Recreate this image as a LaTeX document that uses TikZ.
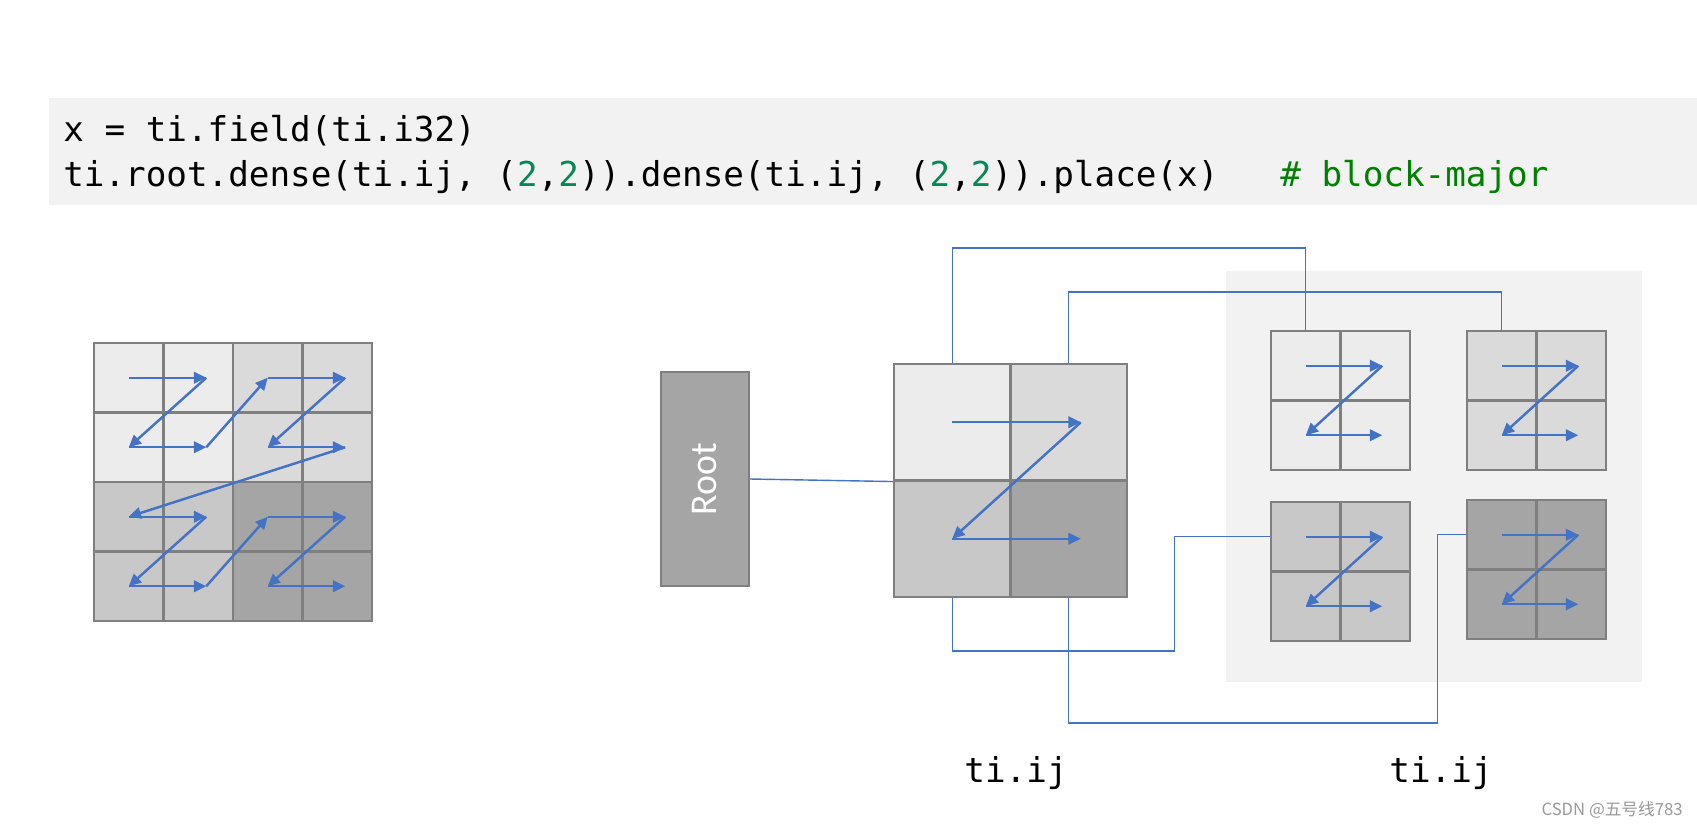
\documentclass[tikz,border=0pt]{standalone}
\usepackage{fontspec}
\setmonofont{DejaVu Sans Mono}
\newfontfamily\rootfont{Carlito}
\newfontfamily\cjkfont{Noto Sans CJK SC}
\usetikzlibrary{arrows.meta, calc}
\definecolor{zblue}{HTML}{4472C4}
\definecolor{gridline}{HTML}{7F7F7F}
\definecolor{shA}{HTML}{ECECEC}
\definecolor{shB}{HTML}{DADADA}
\definecolor{shC}{HTML}{C8C8C8}
\definecolor{shD}{HTML}{A5A5A5}
\definecolor{panelbg}{HTML}{F2F2F2}
\definecolor{numgreen}{HTML}{098658}
\definecolor{cmtgreen}{HTML}{008000}

\begin{document}
\begin{tikzpicture}[x=0.02cm, y=-0.02cm, >={Triangle[length=7pt,width=6.5pt]},
  cell/.style={draw=gridline, line width=1.2pt, inner sep=0pt, minimum size=#1},
  zpath/.style={->, zblue, line width=1.4pt},
  link/.style={zblue, line width=0.8pt},
  codetxt/.style={anchor=base west, inner sep=0pt, font=\ttfamily\fontsize{19.5pt}{23pt}\selectfont}]
  \useasboundingbox (0,0) rectangle (1697,829);
  % bloque de código
  \node[fill=panelbg, minimum width=32.96cm, minimum height=2.14cm, inner sep=0pt] (codebg) at (873,151.5) {};
  \node[codetxt] (line1) at (63,141) {x = ti.field(ti.i32)};
  \node[codetxt] (line2) at (63,186) {ti.root.dense(ti.ij, (\textcolor{numgreen}{2},\textcolor{numgreen}{2})).dense(ti.ij, (\textcolor{numgreen}{2},\textcolor{numgreen}{2})).place(x)~~~\textcolor{cmtgreen}{\# block-major}};
  % cuadrícula 4x4 (izquierda)
  \foreach \qi/\qj/\f in {0/0/shA, 0/2/shB, 2/0/shC, 2/2/shD}
    \foreach \i in {1,2}
      \foreach \j in {1,2}{
        \pgfmathtruncatemacro\r{\qi+\i}
        \pgfmathtruncatemacro\c{\qj+\j}
        \pgfmathsetmacro\dx{8*(1-mod(\c,2))}
        \node[cell=1.39cm, fill=\f] (L\r\c) at ({94+69.5*(\c-0.5)}, {343+69.5*(\r-0.5)}) {};
        \coordinate (Lp\r\c) at ({94+69.5*(\c-0.5)+\dx}, {343+69.5*(\r-0.5)});
      }
  % orden en Z
  \foreach \a/\b in {11/12, 12/21, 21/22, 22/13, 13/14, 14/23, 23/24, 24/31,
                     31/32, 32/41, 41/42, 42/33, 33/34, 34/43, 43/44}
    \draw[zpath] (Lp\a) -- (Lp\b);
  % fondo de los bloques
  \node[fill=panelbg, minimum width=8.32cm, minimum height=8.22cm, inner sep=0pt] (panel) at (1434,476.5) {};
  % raíz
  \node[draw=gridline, line width=1.2pt, fill=shD, minimum width=1.76cm, minimum height=4.28cm,
        inner sep=0pt, text=white, font=\rootfont\fontsize{21.5pt}{26pt}\selectfont] (root) at (705,479) {\rotatebox{90}{Root}};
  % cuadrícula 2x2 (centro)
  \foreach \r/\c/\f in {1/1/shA, 1/2/shB, 2/1/shC, 2/2/shD}{
    \pgfmathsetmacro\dx{12*(\c-1)}
    \node[cell=2.33cm, fill=\f] (m\r\c) at ({894+116.5*(\c-0.5)}, {364+116.5*(\r-0.5)}) {};
    \coordinate (mp\r\c) at ({894+116.5*(\c-0.5)+\dx}, {364+116.5*(\r-0.5)});
  }
  \draw[zpath] (mp11) -- (mp12);
  \draw[zpath] (mp12) -- (mp21);
  \draw[zpath] (mp21) -- (mp22);
  % enlaces
  \draw[link] (root.east) -- (m11.south west);
  \draw[link] (m11.north) -- ++(0,-115) -| (1305.75,331);
  \draw[link] (m12.north) -- ++(0,-71) -| (1501.75,331);
  \draw[link] (m21.south) -- ++(0,53) -- ++(222,0) |- (1271,536.75);
  \draw[link] (m22.south) -- ++(0,125) -- ++(369,0) |- (1467,534.75);
  % bloques hijos
  \foreach \b/\x/\y/\f in {a/1271/331/shA, b/1467/331/shB, c/1271/502/shC, d/1467/500/shD}{
    \foreach \r in {1,2}
      \foreach \c in {1,2}{
        \pgfmathsetmacro\dx{7*(\c-1)}
        \node[cell=1.39cm, fill=\f] (s\b\r\c) at ({\x+69.5*(\c-0.5)}, {\y+69.5*(\r-0.5)}) {};
        \coordinate (sp\b\r\c) at ({\x+69.5*(\c-0.5)+\dx}, {\y+69.5*(\r-0.5)});
      }
    \draw[zpath] (sp\b11) -- (sp\b12);
    \draw[zpath] (sp\b12) -- (sp\b21);
    \draw[zpath] (sp\b21) -- (sp\b22);
  }
  % etiquetas
  \node[codetxt, anchor=base] (lab1) at (1016,782) {ti.ij};
  \node[codetxt, anchor=base] (lab2) at (1441,782) {ti.ij};
  \node[anchor=east, inner sep=0pt, text=black!40, font=\cjkfont\fontsize{9.5pt}{11pt}\selectfont] (mark) at (1683,810) {CSDN @五号线783};
\end{tikzpicture}
\end{document}
